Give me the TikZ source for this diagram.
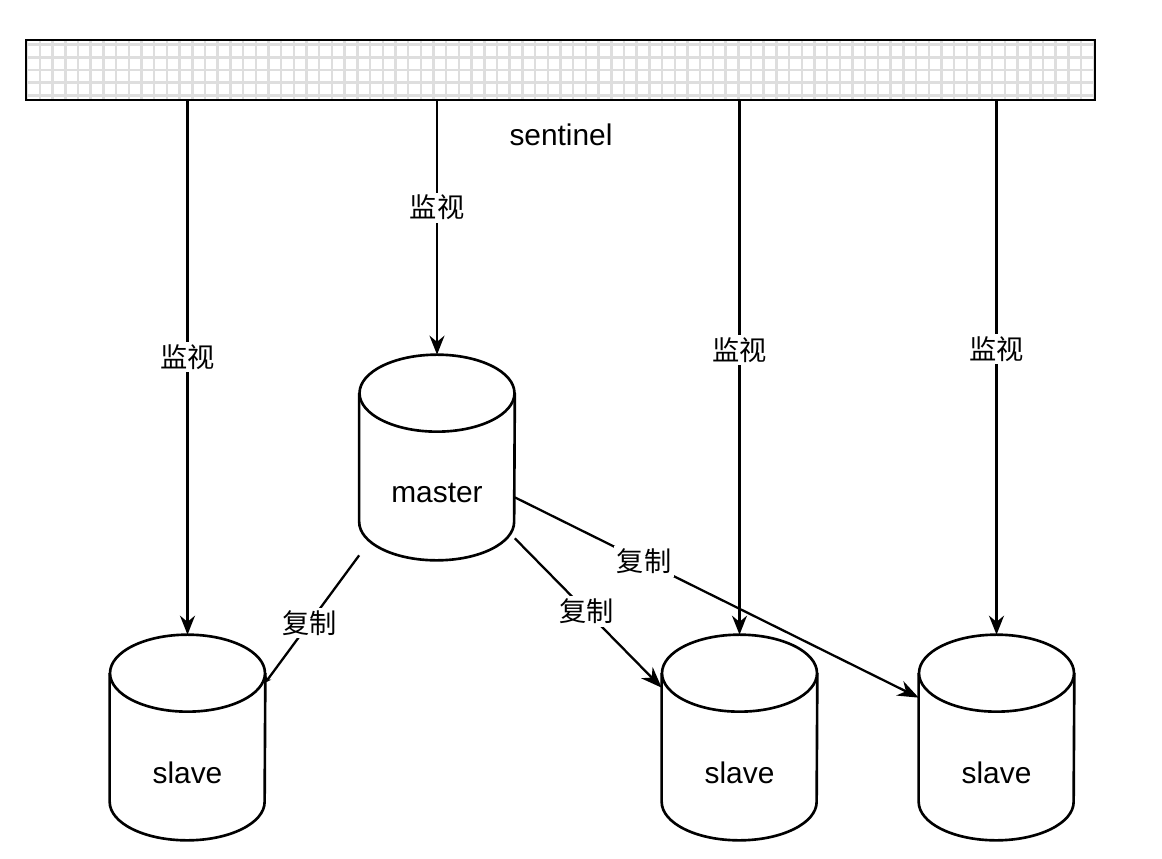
\documentclass[tikz,border=0pt]{standalone}
\usepackage{fontspec}
\setmainfont{Liberation Sans}
\newfontfamily\cjk{Noto Sans CJK SC}
\usetikzlibrary{arrows.meta}

\tikzset{
    db/.style={rectangle, inner sep=0pt, minimum width=3.1cm, minimum height=4.1cm},
    dbline/.style={line width=1.5pt},
    dbtext/.style={font=\fontsize{17}{20}\selectfont},
    bar/.style={draw, line width=1.4pt, minimum width=21.38cm, minimum height=1.2cm,
        path picture={\draw[black!13, line width=1.4pt, step=0.254cm]
            (path picture bounding box.south west) grid (path picture bounding box.north east);}},
    watch/.style={line width=1.3pt, -{Stealth[length=0.38cm,width=0.3cm]}},
    copyline/.style={line width=1.3pt, -{Stealth[length=0.42cm,width=0.32cm]}},
    tag/.style={fill=white, inner sep=1.5pt, font=\cjk\fontsize{15.5}{18}\selectfont}
}

% cylinder round an invisible node
\newcommand\dbcyl[3]{%
    \node[db] (#1) at (#2) {};
    \draw[dbline] ([yshift=-0.77cm]#1.north west) -- ([yshift=0.77cm]#1.south west)
        arc[start angle=180, end angle=360, x radius=1.55cm, y radius=0.77cm]
        -- ([yshift=-0.77cm]#1.north east);
    \draw[dbline] ([yshift=-0.77cm]#1.north) ellipse [x radius=1.55cm, y radius=0.77cm];
    \node[dbtext] (#1-txt) at ([yshift=-0.71cm]#1.center) {#3};
}

\begin{document}
\begin{tikzpicture}[x=0.02cm, y=-0.02cm]
    \useasboundingbox (0,0) rectangle (1162,858);

    \node[bar] (sentinel) at (560.5,70) {};
    \node[dbtext] (sentinel-txt) at (561,135) {sentinel};

    \dbcyl{master}{437,457.5}{master}
    \dbcyl{slaveA}{187.5,737.5}{slave}
    \dbcyl{slaveB}{739.5,737.5}{slave}
    \dbcyl{slaveC}{996.5,737.5}{slave}

    \draw[watch] (sentinel.south -| slaveA.north) -- node[tag, pos=0.48] {监视} (slaveA.north);
    \draw[watch] (sentinel.south -| master.north) -- node[tag, pos=0.42] {监视} (master.north);
    \draw[watch] (sentinel.south -| slaveB.north) -- node[tag, pos=0.467] {监视} (slaveB.north);
    \draw[watch] (sentinel.south -| slaveC.north) -- node[tag, pos=0.465] {监视} (slaveC.north);

    \draw[line width=1.3pt, -{Stealth[length=0.12cm,width=0.12cm]}] ([yshift=0.1cm]master.south west)
        -- node[tag, pos=0.53] {复制} ([yshift=-0.96cm]slaveA.north east);
    \draw[copyline] ([yshift=0.44cm]master.south east)
        -- node[tag, pos=0.49] {复制} ([yshift=-1.06cm]slaveB.north west);
    \draw[copyline] ([yshift=1.26cm]master.south east)
        -- node[tag, pos=0.32] {复制} ([yshift=-1.26cm]slaveC.north west);
\end{tikzpicture}
\end{document}
